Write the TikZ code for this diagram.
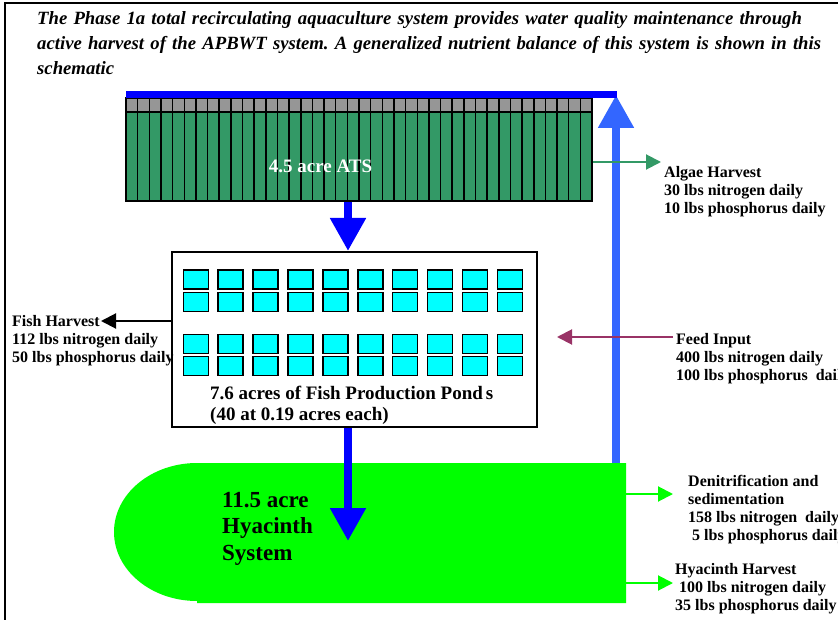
\documentclass[tikz,border=0pt]{standalone}
\usepackage{fontspec}
\setmainfont{Liberation Serif}
\usetikzlibrary{arrows.meta}
\frenchspacing

\definecolor{atsgreen}{HTML}{339966}
\definecolor{atsgray}{HTML}{969696}
\definecolor{barblue}{HTML}{0000FF}
\definecolor{returnblue}{HTML}{3366FF}
\definecolor{pondcyan}{HTML}{00FFFF}
\definecolor{hyagreen}{HTML}{00FF00}
\definecolor{feedpurple}{HTML}{993366}

\tikzset{
  lbl/.style={anchor=north west, inner sep=0pt, align=left,
    font=\fontsize{16}{18}\selectfont\bfseries},
  bigflow/.style={line width=8pt, -{Triangle[length=33pt,width=34pt]}},
  thinflow/.style={line width=2pt, -{Triangle[length=15pt,width=15pt]}},
  pond/.style={draw=black, line width=1.5pt, fill=pondcyan},
  gridline/.style={draw=black, line width=1.5pt},
}

\begin{document}
\begin{tikzpicture}[x=1pt,y=-1pt]
\useasboundingbox (0,0) rectangle (838,620);
\clip (0,0) rectangle (838,620);

% outer frame
\draw[line width=2.5pt] (5,620) -- (5,3) -- (840,3);

% heading
\node[anchor=north west, inner sep=0pt, align=left, text width=800pt,
      font=\fontsize{18.7}{25}\selectfont\bfseries\itshape] (title) at (37,11)
  {The Phase 1a total recirculating aquaculture system provides water quality maintenance through\\
   active harvest of the APBWT system. A generalized nutrient balance of this system is shown in this\\
   schematic};

% algal turf scrubber
\node[draw=black, line width=1.5pt, fill=atsgreen, minimum width=466pt,
      minimum height=103pt, inner sep=0pt] (ats) at (359,149.5) {};
\fill[atsgray] (126,98) rectangle (592,112);
\foreach \i in {0,...,40}
  \draw[gridline] (126+11.65*\i,98) -- (126+11.65*\i,201);
\draw[gridline] (126,112) -- (592,112);
\draw[line width=1.5pt] (126,98) rectangle (592,201);
\node[text=white, inner sep=0pt, font=\fontsize{19}{21}\selectfont\bfseries]
  (atslabel) at (320.5,166) {4.5 acre ATS};

% fish production ponds
\node[draw=black, line width=2pt, fill=white, minimum width=365pt,
      minimum height=175pt, inner sep=0pt] (ponds) at (354.5,339.5) {};
\foreach \r in {270,292.3,334.3,356.7}
  \foreach \i in {0,...,9}
    \draw[pond] (183.3+34.9*\i,\r) rectangle ++(25,19);
\node[anchor=north west, inner sep=0pt, align=left,
      font=\fontsize{19}{21}\selectfont\bfseries] (pondlabel) at (210,386)
  {7.6 acres of Fish Production Pond\hspace{3pt}s\\(40 at 0.19 acres each)};

% hyacinth system
\fill[hyagreen] (626,463) -- (197,463)
  arc[start angle=270, end angle=90, x radius=83, y radius=69]
  -- (197,603) -- (626,603) -- cycle;
\coordinate (hyatop) at (616,463);
\coordinate (hyain) at (348,541);
\node[anchor=north west, inner sep=0pt, align=left,
      font=\fontsize{23}{26.5}\selectfont\bfseries] (hyalabel) at (222,492)
  {11.5 acre\\Hyacinth\\System};

% water flow
\coordinate (ax) at (348,0);
\coordinate (rettip) at (616,95);
\coordinate (barstart) at (126,94.5);
\coordinate (barend) at (617,94.5);
\draw[bigflow, barblue] (ats.south -| ax) -- (ponds.north -| ax);
\draw[bigflow, barblue] (ponds.south -| ax) -- (hyain);
\draw[bigflow, returnblue] (hyatop) -- (rettip);
\draw[line width=7pt, barblue] (barstart) -- (barend);

% nutrient labels
\node[lbl] (algae) at (664,166)
  {Algae Harvest\\30 lbs nitrogen daily\\10 lbs phosphorus daily};
\node[lbl] (fishh) at (12,315)
  {Fish Harvest\\112 lbs nitrogen daily\\50 lbs phosphorus daily};
\node[lbl] (feed) at (676,333)
  {Feed Input\\400 lbs nitrogen daily\\100 lbs phosphorus\ \ daily};
\node[lbl] (denit) at (688,475)
  {Denitrification and\\sedimentation\\158 lbs nitrogen\ \ daily\\\ 5 lbs phosphorus daily};
\node[lbl] (hharv) at (675,563)
  {Hyacinth Harvest\\\ 100 lbs nitrogen daily\\35 lbs phosphorus daily};

% nutrient flows
\coordinate (algaetip) at (661,162);
\coordinate (fishtip) at (101,321);
\coordinate (feedtail) at (673,337);
\coordinate (feedtip) at (557,337);
\coordinate (denittip) at (673,494);
\coordinate (hharvtip) at (673,583);
\draw[thinflow, atsgreen] (ats.east |- algaetip) -- (algaetip);
\draw[thinflow, black] (ponds.west |- fishtip) -- (fishtip);
\draw[thinflow, feedpurple] (feedtail) -- (feedtip);
\draw[thinflow, hyagreen] (626,494) -- (denittip);
\draw[thinflow, hyagreen] (626,583) -- (hharvtip);
\end{tikzpicture}
\end{document}
